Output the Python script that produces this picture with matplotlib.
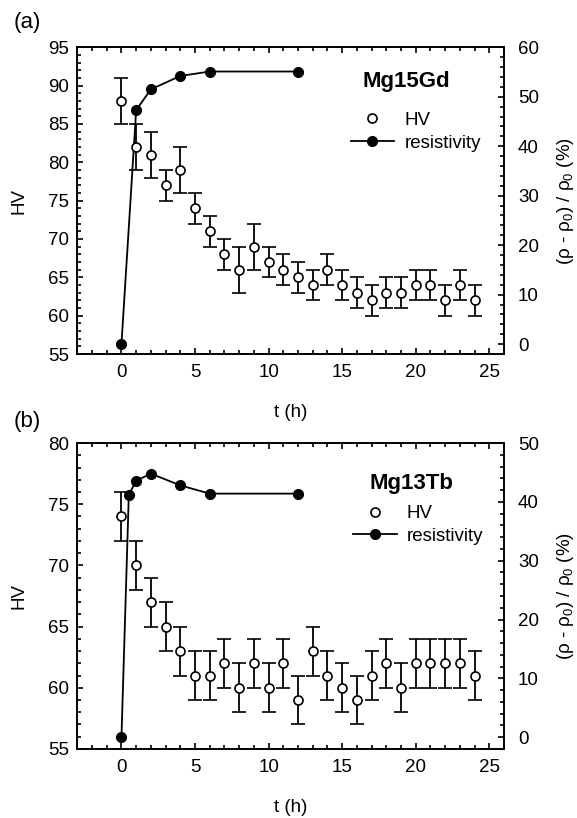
import matplotlib
matplotlib.use("Agg")
import matplotlib.pyplot as plt
from matplotlib.ticker import MultipleLocator
from matplotlib.lines import Line2D

plt.rcParams["font.family"] = ["Liberation Sans", "DejaVu Sans"]
plt.rcParams["mathtext.fontset"] = "custom"
plt.rcParams["mathtext.rm"] = "Liberation Sans"
plt.rcParams["mathtext.default"] = "regular"

# Hardness (HV) measured every hour, with error bars
t_hv = list(range(25))
hv_gd = [88, 82, 81, 77, 79, 74, 71, 68, 66, 69, 67, 66, 65, 64, 66, 64, 63, 62, 63, 63, 64, 64, 62, 64, 62]
err_gd = [3, 3, 3, 2, 3, 2, 2, 2, 3, 3, 2, 2, 2, 2, 2, 2, 2, 2, 2, 2, 2, 2, 2, 2, 2]
hv_tb = [74, 70, 67, 65, 63, 61, 61, 62, 60, 62, 60, 62, 59, 63, 61, 60, 59, 61, 62, 60, 62, 62, 62, 62, 61]
err_tb = [2] * 25

# Resistivity change (%)
t_res_gd = [0, 1, 2, 4, 6, 12]
res_gd = [0, 47.3, 51.5, 54.2, 55.1, 55.1]
t_res_tb = [0, 0.5, 1, 2, 4, 6, 12]
res_tb = [0, 41.2, 43.6, 44.8, 42.8, 41.4, 41.4]

panels = [
    dict(rect=[0.134, 0.5672, 0.7395, 0.375], hv=hv_gd, err=err_gd, tr=t_res_gd, res=res_gd,
         hvlim=(55, 95), rlim=(-2, 60), name="Mg15Gd", name_pos=(0.770, 0.870),
         leg_pos=(0.641, 0.725), tag="(a)", tag_y=0.9725),
    dict(rect=[0.134, 0.0844, 0.7395, 0.374], hv=hv_tb, err=err_tb, tr=t_res_tb, res=res_tb,
         hvlim=(55, 80), rlim=(-2, 50), name="Mg13Tb", name_pos=(0.783, 0.850),
         leg_pos=(0.647, 0.732), tag="(b)", tag_y=0.4853),
]

fig = plt.figure(figsize=(5.77, 8.18), dpi=100)
fs = 13.5

for p in panels:
    ax = fig.add_axes(p["rect"])
    ax2 = ax.twinx()
    # HV on top of the resistivity curve
    ax.set_zorder(ax2.get_zorder() + 1)
    ax.patch.set_visible(False)

    ax.errorbar(t_hv, p["hv"], yerr=p["err"], fmt="o", ms=6.5, mfc="white", mec="black",
                mew=1.2, ecolor="black", elinewidth=1.3, capsize=5, capthick=1.3)
    ax2.plot(p["tr"], p["res"], "-o", color="black", ms=7, lw=1.3)

    ax.set_xlim(-3, 26)
    ax.set_ylim(*p["hvlim"])
    ax2.set_ylim(*p["rlim"])

    ax.xaxis.set_major_locator(MultipleLocator(5))
    ax.xaxis.set_minor_locator(MultipleLocator(1))
    ax.yaxis.set_major_locator(MultipleLocator(5))
    ax.yaxis.set_minor_locator(MultipleLocator(1))
    ax2.yaxis.set_major_locator(MultipleLocator(10))
    ax2.yaxis.set_minor_locator(MultipleLocator(2))

    ax.tick_params(axis="x", which="both", direction="in", top=True, labelsize=fs, pad=7)
    ax.tick_params(axis="y", which="both", direction="in", right=False, labelsize=fs, pad=6)
    ax2.tick_params(axis="y", which="both", direction="in", labelsize=fs, pad=10)
    for a in (ax, ax2):
        a.tick_params(which="major", length=4.5, width=1.2)
        a.tick_params(which="minor", length=3, width=1.2)
        for s in a.spines.values():
            s.set_linewidth(1.2)

    ax.set_xlabel("t (h)", fontsize=fs)
    ax.xaxis.set_label_coords(0.5, -0.19)
    ax.xaxis.label.set_va("center")
    ax.set_ylabel("HV", fontsize=fs)
    ax.yaxis.set_label_coords(-0.137, 0.5)
    ax.yaxis.label.set_va("center")
    ax.yaxis.label.set_ha("center")
    ax2.set_ylabel(r"(ρ - ρ$_0$) / ρ$_0$ (%)", fontsize=fs)
    ax2.yaxis.set_label_coords(1.143, 0.5)
    ax2.yaxis.label.set_va("center")
    ax2.yaxis.label.set_ha("center")

    ax.text(*p["name_pos"], p["name"], transform=ax.transAxes, ha="center", va="baseline",
            fontsize=16, fontweight="bold")
    handles = [
        Line2D([], [], ls="none", marker="o", ms=6.5, mfc="white", mec="black", mew=1.2),
        Line2D([], [], ls="-", marker="o", ms=7, color="black", lw=1.3),
    ]
    ax.legend(handles, ["HV", "resistivity"], loc="center left", bbox_to_anchor=p["leg_pos"],
              frameon=False, fontsize=fs, handlelength=2.3, handletextpad=0.55,
              labelspacing=0.3, borderpad=0, borderaxespad=0)

    fig.text(0.024, p["tag_y"], p["tag"], fontsize=16, ha="left", va="center")

fig.savefig("out.png", dpi=100)
